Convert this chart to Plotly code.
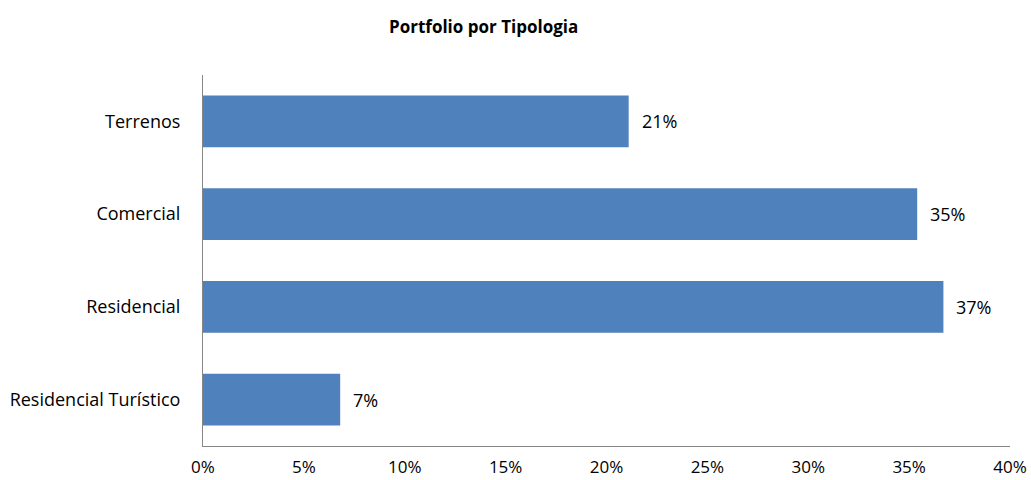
import plotly.graph_objects as go

categories = ["Terrenos", "Comercial", "Residencial", "Residencial Turístico"]
values = [0.211, 0.354, 0.367, 0.068]
labels = ["21%", "35%", "37%", "7%"]
tick_vals = [0, 0.05, 0.10, 0.15, 0.20, 0.25, 0.30, 0.35, 0.40]
tick_text = ["0%", "5%", "10%", "15%", "20%", "25%", "30%", "35%", "40%"]

font_family = "Open Sans, sans-serif"

W, H = 1031, 480
L, T, R, B = 203, 75, 21, 34

fig = go.Figure()
fig.add_trace(go.Bar(
    x=values, y=categories, orientation="h",
    marker=dict(color="#4F81BD", line=dict(width=0)),
    hoverinfo="x+y",
))
for c, v, t in zip(categories, values, labels):
    fig.add_annotation(x=v, y=c, text=t, showarrow=False, xanchor="left",
                       xshift=11, font=dict(size=18, color="#000000", family=font_family))

fig.add_annotation(text="<b>Portfolio por Tipologia</b>", xref="paper", yref="paper",
                   x=(483 - 203) / 807, y=1, yshift=49, showarrow=False,
                   xanchor="center", yanchor="middle",
                   font=dict(size=17, color="#000000", family=font_family))

fig.update_layout(
    width=W, height=H,
    margin=dict(l=L, r=R, t=T, b=B, autoexpand=False),
    paper_bgcolor="white", plot_bgcolor="white",
    bargap=0.44,
    showlegend=False,
    font=dict(family=font_family, size=18, color="#000000"),
    xaxis=dict(range=[0, 0.40], tickvals=tick_vals, ticktext=tick_text,
               showgrid=False, zeroline=False, showline=True, linecolor="#868686",
               linewidth=1, ticks="", ticklabelstandoff=6, automargin=False,
               tickfont=dict(size=17, family=font_family)),
    yaxis=dict(categoryorder="array", categoryarray=categories[::-1],
               showgrid=False, zeroline=False, showline=True, linecolor="#868686",
               linewidth=1, ticks="", ticklabelstandoff=18, automargin=False,
               tickfont=dict(size=18, family=font_family)),
)

fig.write_html("out.html", config={"displayModeBar": False},
               post_script="document.body.style.margin='0px';document.body.style.overflow='hidden';")
